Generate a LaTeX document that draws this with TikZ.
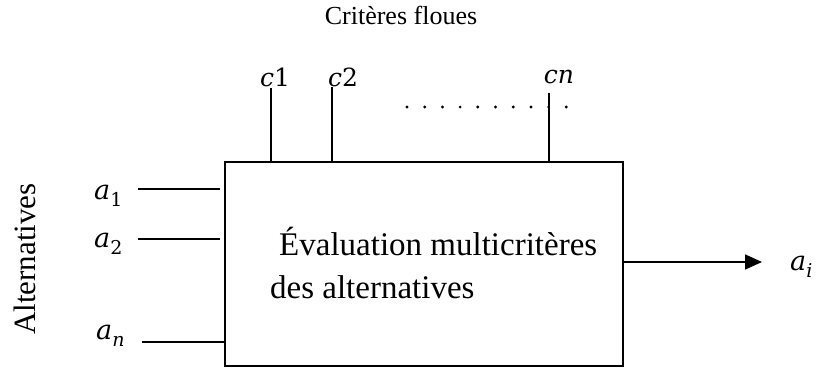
\documentclass[tikz,border=0pt]{standalone}
\usepackage{fontspec}
\setmainfont{Liberation Serif}
\newfontfamily\symfont{DejaVu Serif}
\usetikzlibrary{arrows.meta}
% italic letter with optional lowered index, set in the symbol family
\newcommand\varit[1]{{\symfont\itshape #1}}
\newcommand\lowidx[1]{\raisebox{-0.28em}{\symfont\fontsize{19}{19}\selectfont #1}}
\begin{document}
\begin{tikzpicture}[x=1pt,y=-1pt,
  wire/.style={line width=1.6pt},
  lbl/.style={inner sep=0pt},
  clbl/.style={inner sep=0pt,anchor=base,font=\symfont\fontsize{25}{28}\selectfont},
  albl/.style={inner sep=0pt,anchor=base west,font=\symfont\fontsize{27}{30}\selectfont},
  dotrow/.style={line width=3.2pt,line cap=round,dash pattern=on 0pt off 17.7pt}]
\useasboundingbox (0,0) rectangle (819,367);

% title
\node[lbl,font=\fontsize{26}{30}\selectfont] (title) at (401,15) {Critères floues};

% processing block
\node[draw,line width=1.6pt,minimum width=398pt,minimum height=204pt,inner sep=0pt] (box) at (424,264) {};
\node[lbl,align=left,anchor=base west,font=\fontsize{33}{43}\selectfont] (txt) at (270,298)
  {\hspace*{9pt}Évaluation multicritères\\des alternatives};

% criteria inputs
\coordinate (c1t) at (271,88);
\coordinate (c2t) at (332,87);
\coordinate (cnt) at (549,93);
\draw[wire] (c1t) -- (c1t |- box.north);
\draw[wire] (c2t) -- (c2t |- box.north);
\draw[wire] (cnt) -- (cnt |- box.north);
\node[clbl] (c1) at (275,86) {\varit{c}1};
\node[clbl] (c2) at (343,86) {\varit{c}2};
\node[clbl] (cn) at (559,83) {\varit{cn}};
\coordinate (d0) at (407,107);
\coordinate (d1) at (567,107);
\draw[dotrow] (d0) -- (d1);

% alternatives inputs
\node[lbl,rotate=90,font=\fontsize{31}{35}\selectfont] (alt) at (25,259) {Alternatives};
\node[albl] (a1) at (94,199) {\varit{a}\lowidx{1}};
\node[albl] (a2) at (94,247) {\varit{a}\lowidx{2}};
\node[albl] (an) at (96,339) {\varit{a}\lowidx{\itshape n}};
\coordinate (a1s) at (138,189);
\coordinate (a2s) at (138,239);
\coordinate (ans) at (142,342);
\draw[wire] (a1s) -- ([xshift=-4pt]a1s -| box.west);
\draw[wire] (a2s) -- ([xshift=-4pt]a2s -| box.west);
\draw[wire] (ans) -- (ans -| box.west);

% result
\coordinate (outp) at (box.east |- 0,262);
\node[albl] (ai) at (790,270) {\varit{a}\lowidx{\itshape i}};
\draw[wire,-{Triangle[length=17pt,width=15pt]}] (outp) -- (762,262);
\end{tikzpicture}
\end{document}
